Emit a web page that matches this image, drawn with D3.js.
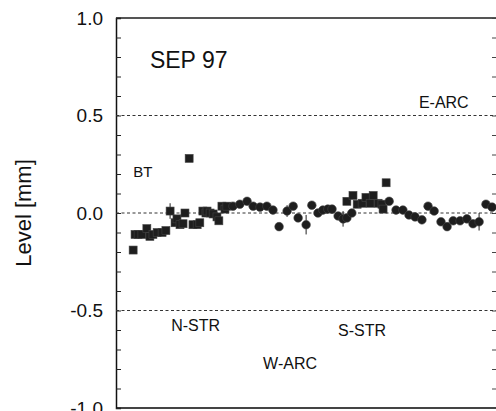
<!DOCTYPE html>
<html>
<head>
<meta charset="utf-8">
<script src="https://cdn.jsdelivr.net/npm/d3@7"></script>
<style>
  html, body { margin: 0; padding: 0; background: #fff; }
  svg { display: block; font-family: "Liberation Sans", Arial, sans-serif; }
</style>
</head>
<body>
<div id="chart"></div>
<script>
// squares (BT / N-STR and S-STR stretch), x = position along ring (0..100)
const sqX = [4.5, 5.0, 5.8, 6.8, 8.1, 8.9, 9.7, 10.8, 12.1, 13.1, 14.2, 15.5, 16.0, 16.8, 17.6, 18.1, 19.2,
             20.2, 21.3, 22.0, 22.8, 23.6, 23.9, 24.7, 25.5, 26.5, 27.0, 27.8, 28.6, 29.1,
             60.6, 62.2, 63.3, 64.6, 65.6, 66.7, 67.5, 68.8, 69.8, 70.1, 70.9];
const sqY = [-0.19, -0.11, -0.11, -0.11, -0.08, -0.12, -0.11, -0.10, -0.10, -0.09, 0.01, -0.05, -0.03, -0.06, -0.055, 0.00, 0.28,
             -0.06, -0.06, -0.05, 0.01, 0.00, 0.01, 0.00, -0.005, -0.02, -0.04, 0.035, 0.02, 0.035,
             0.06, 0.09, 0.045, 0.05, 0.08, 0.05, 0.09, 0.05, 0.045, 0.02, 0.155];

// circles
const ciX = [30.7, 32.5, 34.4, 36.0, 37.8, 39.6, 41.2, 42.8, 44.9, 46.5, 47.8, 49.9, 51.4, 53.0, 54.3, 55.6,
             56.7, 58.3, 59.6, 60.6, 61.9, 71.7, 73.5, 75.3, 76.9, 78.5, 80.3, 81.9, 83.5, 85.3, 86.9,
             88.5, 90.3, 92.1, 93.7, 95.3, 97.1, 98.7];
const ciY = [0.035, 0.045, 0.06, 0.035, 0.03, 0.035, 0.015, -0.07, 0.01, 0.035, -0.025, -0.06, 0.04, 0.00, 0.015, 0.02,
             0.02, -0.015, -0.03, -0.025, 0.00, 0.06, 0.015, 0.015, -0.01, -0.02, -0.035, 0.035, 0.01, -0.045, -0.07,
             -0.04, -0.04, -0.03, -0.055, -0.045, 0.045, 0.03];

// error bars: position, value, half-length
const errX = [14.2, 44.9, 49.9, 59.6, 95.3];
const errV = [0.01, 0.01, -0.06, -0.03, -0.045];
const errD = [0.04, 0.03, 0.05, 0.04, 0.045];

const yTicks = [-1.0, -0.5, 0.0, 0.5, 1.0];
const refLines = [0.5, 0.0, -0.5];
const labels = [
  { t: "SEP 97", x: 8.9, y: 0.745, s: 23 },
  { t: "E-ARC", x: 79.5, y: 0.54, s: 16 },
  { t: "BT", x: 4.5, y: 0.185, s: 15 },
  { t: "N-STR", x: 14.5, y: -0.605, s: 16 },
  { t: "S-STR", x: 58.3, y: -0.63, s: 16 },
  { t: "W-ARC", x: 38.6, y: -0.8, s: 16 }
];

const W = 496, H = 411;
const margin = { top: 18, right: -1, bottom: 3, left: 116 };
const width = W - margin.left - margin.right,
      height = H - margin.top - margin.bottom;

const svg = d3.select("#chart").append("svg")
    .attr("width", W).attr("height", H);
const g = svg.append("g").attr("transform", `translate(${margin.left},${margin.top})`);

const x = d3.scaleLinear().domain([0, 100]).range([0, width]);
const y = d3.scaleLinear().domain([-1, 1]).range([height, 0]);

// frame: top and bottom grey, left black
g.append("line").attr("x1", 0).attr("x2", width).attr("y1", 0).attr("y2", 0)
    .style("stroke", "#555").style("stroke-width", 2);
g.append("line").attr("x1", 0).attr("x2", width).attr("y1", height).attr("y2", height)
    .style("stroke", "#444").style("stroke-width", 2);

// left axis, ticks inward
const yAxis = d3.axisLeft(y).tickValues(d3.range(-10, 11).map(d => d / 10))
    .tickSize(-5).tickFormat("");
const ya = g.append("g").call(yAxis);
ya.select(".domain").style("stroke", "#111").style("stroke-width", 1.5);
ya.selectAll(".tick line").style("stroke", "#222");

// right axis ticks
const yAxisR = d3.axisRight(y).tickValues(d3.range(-10, 11).map(d => d / 10))
    .tickSize(-5).tickFormat("");
const yr = g.append("g").attr("transform", `translate(${width},0)`).call(yAxisR);
yr.select(".domain").style("stroke", "#333");
yr.selectAll(".tick line").style("stroke", "#444");

// tick labels
g.selectAll(".ylab").data(yTicks).enter().append("text")
    .attr("x", -13).attr("y", d => y(d)).attr("dy", "0.36em")
    .attr("text-anchor", "end").style("font-size", "19px").style("fill", "#111")
    .text(d => d3.format(".1f")(d).replace("−", "-"));

// axis title
g.append("text")
    .attr("transform", `translate(${-93},${y(0)}) rotate(-90)`)
    .attr("text-anchor", "middle").attr("dy", "0.36em")
    .style("font-size", "22px").style("fill", "#111")
    .text("Level [mm]");

// reference lines
g.selectAll(".ref").data(refLines).enter().append("line")
    .attr("x1", 0).attr("x2", width).attr("y1", d => y(d)).attr("y2", d => y(d))
    .style("stroke", "#333").style("stroke-width", 1).style("stroke-dasharray", "3,2.5");

// labels
g.selectAll(".lbl").data(labels).enter().append("text")
    .attr("x", d => x(d.x)).attr("y", d => y(d.y))
    .style("font-size", d => d.s + "px").style("fill", "#111")
    .text(d => d.t);

// error bars
g.selectAll(".err").data(errX).enter().append("line")
    .attr("x1", d => x(d)).attr("x2", d => x(d))
    .attr("y1", (d, i) => y(errV[i] - errD[i])).attr("y2", (d, i) => y(errV[i] + errD[i]))
    .style("stroke", "#222").style("stroke-width", 1);

// squares
const S = 8;
g.selectAll(".sq").data(sqX).enter().append("rect")
    .attr("x", d => x(d) - S / 2).attr("y", (d, i) => y(sqY[i]) - S / 2)
    .attr("width", S).attr("height", S)
    .style("fill", "#1e1e1e").style("stroke", "#444").style("stroke-width", 0.6);

// circles
g.selectAll(".ci").data(ciX).enter().append("circle")
    .attr("cx", d => x(d)).attr("cy", (d, i) => y(ciY[i])).attr("r", 4.3)
    .style("fill", "#1e1e1e").style("stroke", "#444").style("stroke-width", 0.6);
</script>
</body>
</html>
